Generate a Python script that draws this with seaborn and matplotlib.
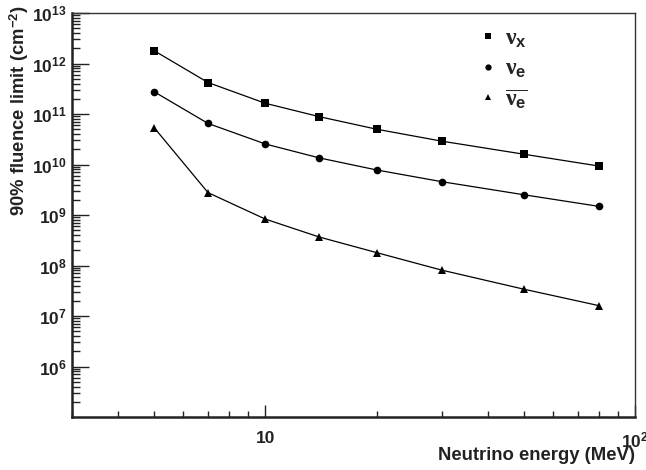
import numpy as np
import pandas as pd
import matplotlib
matplotlib.use("Agg")
import matplotlib.pyplot as plt
import matplotlib.ticker as mticker
from matplotlib.lines import Line2D
import seaborn as sns

energy = [5, 7, 10, 14, 20, 30, 50, 80]
nu_x = [1.8e12, 4.2e11, 1.63e11, 8.85e10, 5.0e10, 2.9e10, 1.6e10, 9.3e9]
nu_e = [2.77e11, 6.5e10, 2.55e10, 1.35e10, 7.8e9, 4.57e9, 2.52e9, 1.48e9]
nu_e_bar = [5.4e10, 2.77e9, 8.3e8, 3.66e8, 1.8e8, 8.1e7, 3.4e7, 1.6e7]
series_names = ["nu_x", "nu_e", "nu_e_bar"]
legend_labels = [r"$\nu_{\mathbf{x}}$", r"$\nu_{\mathbf{e}}$", r"$\overline{\nu_{\mathbf{e}}}$"]
y_tick_exps = [6, 7, 8, 9, 10, 11, 12, 13]

sns.set_theme(style="white")
plt.rcParams["font.family"] = ["Liberation Sans", "DejaVu Sans"]
plt.rcParams["font.weight"] = "bold"
plt.rcParams["mathtext.fontset"] = "custom"
plt.rcParams["mathtext.rm"] = "Liberation Serif"
plt.rcParams["mathtext.it"] = "Liberation Serif"
plt.rcParams["mathtext.bf"] = "Liberation Sans:bold"

df = pd.DataFrame({
    "energy": energy * 3,
    "limit": nu_x + nu_e + nu_e_bar,
    "series": sum([[s] * len(energy) for s in series_names], []),
})

fig = plt.figure(figsize=(6.46, 4.70), dpi=100)
ax = fig.add_axes([72 / 646, 1 - 417 / 470, (635 - 72) / 646, (417 - 13) / 470])

markers = {"nu_x": "s", "nu_e": "o", "nu_e_bar": "^"}
sns.lineplot(data=df, x="energy", y="limit", style="series", markers=markers,
             dashes=False, color="black", linewidth=0.9, markersize=5.5,
             markeredgewidth=0, ax=ax, legend=False, sort=False)

ax.set_xscale("log")
ax.set_yscale("log")
ax.set_xlim(3, 100)
ax.set_ylim(1e5, 1e13)

ax.xaxis.set_major_locator(mticker.FixedLocator([10, 100]))
ax.xaxis.set_major_formatter(mticker.FixedFormatter(["10", r"$\mathbf{10^{2}}$"]))
ax.xaxis.set_minor_locator(mticker.LogLocator(base=10, subs=np.arange(2, 10), numticks=20))
ax.xaxis.set_minor_formatter(mticker.NullFormatter())

ax.yaxis.set_major_locator(mticker.FixedLocator([10.0 ** e for e in y_tick_exps]))
ax.yaxis.set_major_formatter(mticker.FixedFormatter([r"$\mathbf{10^{%d}}$" % e for e in y_tick_exps]))
ax.yaxis.set_minor_locator(mticker.LogLocator(base=10, subs=np.arange(2, 10), numticks=30))
ax.yaxis.set_minor_formatter(mticker.NullFormatter())

ax.tick_params(axis="both", which="both", direction="in", colors="#222222", width=1.0,
               labelsize=12.5, labelcolor="#222222", bottom=True, left=True,
               top=False, right=False)
ax.tick_params(axis="x", which="major", length=8.5, pad=10)
ax.tick_params(axis="x", which="minor", length=4)
ax.tick_params(axis="y", which="major", length=12, pad=4)
ax.tick_params(axis="y", which="minor", length=6)
for lbl in ax.get_xticklabels() + ax.get_yticklabels():
    lbl.set_fontweight("bold")

for sp in ax.spines.values():
    sp.set_color("#333333")
    sp.set_linewidth(1.0)
ax.spines["left"].set_linewidth(1.8)
ax.spines["bottom"].set_linewidth(1.8)
ax.spines["left"].set_color("#222222")
ax.spines["bottom"].set_color("#222222")

ax.set_xlabel("Neutrino energy (MeV)", fontsize=13.3, fontweight="bold", color="#222222")
ax.xaxis.set_label_coords(1.0, -0.074, transform=ax.transAxes)
ax.xaxis.label.set_ha("right")
ax.xaxis.label.set_va("top")
ax.set_ylabel(r"90% fluence limit (cm$^{\mathbf{-2}}$)", fontsize=13.3, fontweight="bold",
              color="#222222")
ax.yaxis.set_label_coords(-0.094, 1.02)
ax.yaxis.label.set_ha("right")
ax.yaxis.label.set_va("center")

handles = [Line2D([], [], marker=markers[s], color="black", linestyle="none",
                  markersize=4.5, markeredgewidth=0) for s in series_names]
leg = ax.legend(handles, legend_labels, loc="upper left", bbox_to_anchor=(0.706, 0.99),
                frameon=False, fontsize=17, handlelength=0.8, handletextpad=0.3,
                labelspacing=0.3, borderaxespad=0)

fig.savefig("out.png", dpi=100)
